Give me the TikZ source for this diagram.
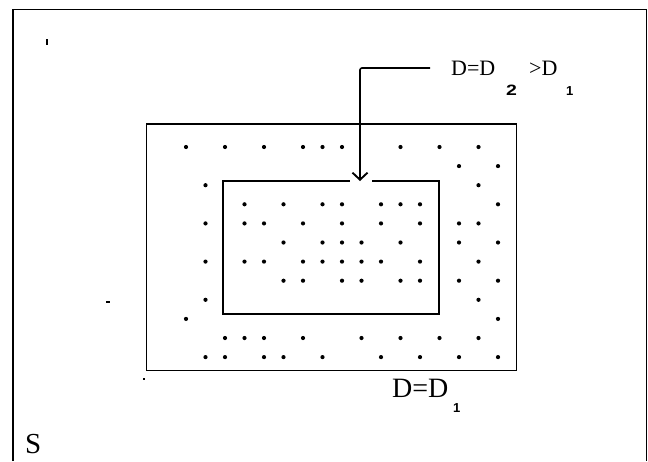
\documentclass[tikz,border=0pt]{standalone}
\usepackage{fontspec}
\setmainfont{Liberation Serif}
\newfontfamily\subfont{Liberation Sans}
\usetikzlibrary{arrows.meta,calc}
\begin{document}
\begin{tikzpicture}[x=1pt,y=-1pt,
  frameline/.style={line width=1.6pt},
  box/.style={draw, line width=1.9pt, inner sep=0pt, outer sep=0pt},
  boxnodraw/.style={inner sep=0pt, outer sep=0pt},
  lbl/.style={inner sep=0pt, anchor=base west},
  sublbl/.style={inner sep=0pt, anchor=base west, font=\subfont\bfseries\fontsize{13}{13}\selectfont},
  leader/.style={line width=1.6pt, rounded corners=2pt, -{Straight Barb[length=7pt,width=15pt,line width=1.9pt]}}
]
\useasboundingbox (0,0) rectangle (648,461);
\fill[white] (0,0) rectangle (648,461);

% open frame (bottom edge off the picture)
\draw[frameline] (13,461) -- (13,9.5) -- (646.5,9.5) -- (646.5,461);

% outer rectangle D = D1
\node[box, minimum width=370pt, minimum height=246.5pt] (outer) at (331.5,247.25) {};

% inner rectangle D = D2 (top edge interrupted by the arrow head)
\node[boxnodraw, minimum width=216pt, minimum height=133pt] (inner) at (331,247.5) {};
\coordinate (tip) at (inner.north -| 360,0);
\draw[line width=1.9pt] ($(tip)+(12,0)$) -- (inner.north east) -- (inner.south east)
  -- (inner.south west) -- (inner.north west) -- ($(tip)+(-10,0)$);

% dots
\foreach \j/\cols in {0/{0,2,4,6,7,8,11,13,15},
                      1/{14,16},
                      2/{1,15},
                      3/{3,5,7,8,10,11,12,16},
                      4/{1,3,4,6,8,10,12,14,15},
                      5/{5,7,8,9,11,14,16},
                      6/{1,3,4,6,7,8,9,10,12,15},
                      7/{5,6,8,9,11,12,14,16},
                      8/{1,15},
                      9/{0,16},
                      10/{2,3,4,6,9,11,13,15},
                      11/{1,2,4,5,7,10,12,14,16}}{
  \foreach \i in \cols {
    \fill ({186+19.5*\i},{147+19.1*\j}) circle (2.1pt);
  }
}

% top label D=D2 > D1
\node[lbl, font=\fontsize{22}{22}\selectfont] (topA) at (451,75) {D=D};
\node[sublbl, font=\subfont\bfseries\fontsize{15}{15}\selectfont] (topB) at (506,95) {\scalebox{1.3}[1]{2}};
\node[lbl, font=\fontsize{22}{22}\selectfont] (topC) at (529,75) {>D};
\node[sublbl] (topD) at (566,95) {1};

% leader arrow
\coordinate (lead) at (430,68);
\draw[leader] (lead) -| (tip);

% bottom label D=D1
\node[lbl, font=\fontsize{28}{28}\selectfont] (botA) at (392,397) {D=D};
\node[sublbl] (botB) at (453,412) {1};

% region label
\node[lbl, font=\fontsize{29}{29}\selectfont] (S) at (25,453) {S};

% small scan marks
\fill (46,39) rectangle (48,45);
\fill (106,301) rectangle (110,302.5);
\fill (142.5,377.5) rectangle (144.5,379.5);
\end{tikzpicture}
\end{document}
